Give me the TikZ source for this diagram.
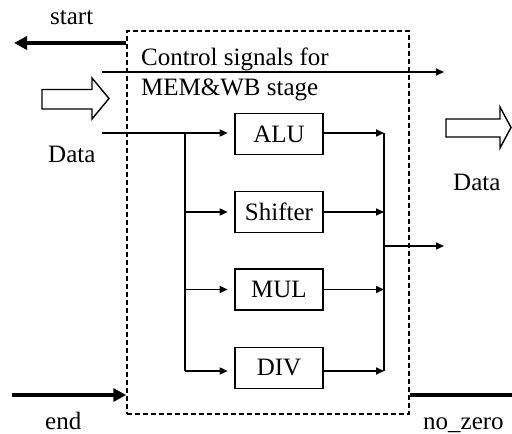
\documentclass[tikz,border=0pt]{standalone}
\usepackage{fontspec}
\setmainfont{Liberation Serif}
\usetikzlibrary{arrows.meta}
\begin{document}
\begin{tikzpicture}[x=1pt,y=-1pt,
  lbl/.style={font=\fontsize{25}{30}\selectfont, inner sep=0pt},
  unit/.style={draw, line width=1.6pt, minimum width=88pt, minimum height=41pt,
               inner sep=0pt, font=\fontsize{25}{30}\selectfont},
  wire/.style={line width=1.6pt},
  sig/.style={wire, -{Triangle[length=8pt,width=7pt]}},
  bold/.style={line width=4pt},
  boldarrow/.style={bold, -{Triangle[length=13pt,width=13pt]}},
  hollow/.style={draw, line width=1.4pt, fill=white, line join=miter}]

\fill[white] (0,0) rectangle (512,434);
\useasboundingbox (0,0) rectangle (512,434);

% execution stage boundary
\node[draw, line width=1.5pt, dash pattern=on 5pt off 3pt,
      minimum width=282pt, minimum height=383pt, inner sep=0pt] (stage) at (268,222.5) {};

% functional units
\node[unit] (alu) at (279,134) {ALU};
\node[unit] (shf) at (279,212) {Shifter};
\node[unit] (mul) at (279,289.5) {MUL};
\node[unit] (div) at (279,368) {DIV};

% bus coordinates
\coordinate (din)   at (102,133);
\coordinate (ibus)  at (185,133);
\coordinate (ibusb) at (185,371);
\coordinate (obus)  at (384,133);
\coordinate (obusb) at (384,371);
\coordinate (otap)  at (384,246);
\coordinate (oend)  at (444,246);
\coordinate (cin)   at (102,72);
\coordinate (cout)  at (444,72);

% control signals passing through
\draw[sig] (cin) -- (cout);
\node[lbl, anchor=base west] (ctl1) at (141,65.5) {Control signals for};
\node[lbl, anchor=base west] (ctl2) at (141,95) {MEM\&WB stage};

% input distribution
\draw[sig, shorten >=6.5pt] (din) -- (alu.west |- din);
\draw[wire] (ibus) -- (ibusb);
\draw[sig, shorten >=6.5pt] (ibus |- shf) -- (shf.west);
\draw[sig, shorten >=6.5pt] (ibus |- mul) -- (mul.west);
\draw[sig, shorten >=6.5pt] (ibusb) -- (div.west |- ibusb);

% output collection
\draw[sig] (alu.east |- obus) -- (obus);
\draw[sig] (shf.east) -- (obus |- shf);
\draw[sig] (mul.east) -- (obus |- mul);
\draw[sig] (div.east |- obusb) -- (obusb);
\draw[wire] (obus) -- (obusb);
\draw[sig] (otap) -- (oend);

% handshake signals
\coordinate (startl) at (14,43);
\coordinate (endl)   at (12,395);
\coordinate (nzr)    at (512,395);
\draw[boldarrow] (stage.west |- startl) -- (startl);
\draw[boldarrow] (endl) -- (stage.west |- endl);
\draw[bold] (stage.east |- nzr) -- (nzr);

% data flow arrows
\draw[hollow] (42,89.5) -- (92,89.5) -- (92,78) -- (109,98.5) -- (92,119)
  -- (92,109) -- (42,109) -- cycle;
\draw[hollow] (446,119) -- (500,119) -- (500,107) -- (511,127.5) -- (500,148)
  -- (500,137) -- (446,137) -- cycle;

% labels
\node[lbl, anchor=base west] (lstart) at (50,24) {start};
\node[lbl, anchor=base west] (ldin)   at (48,162) {Data};
\node[lbl, anchor=base west] (ldout)  at (453,190) {Data};
\node[lbl, anchor=base west] (lend)   at (45,429) {end};
\node[lbl, anchor=base west] (lnz)    at (423,429) {no\_zero};
\end{tikzpicture}
\end{document}
